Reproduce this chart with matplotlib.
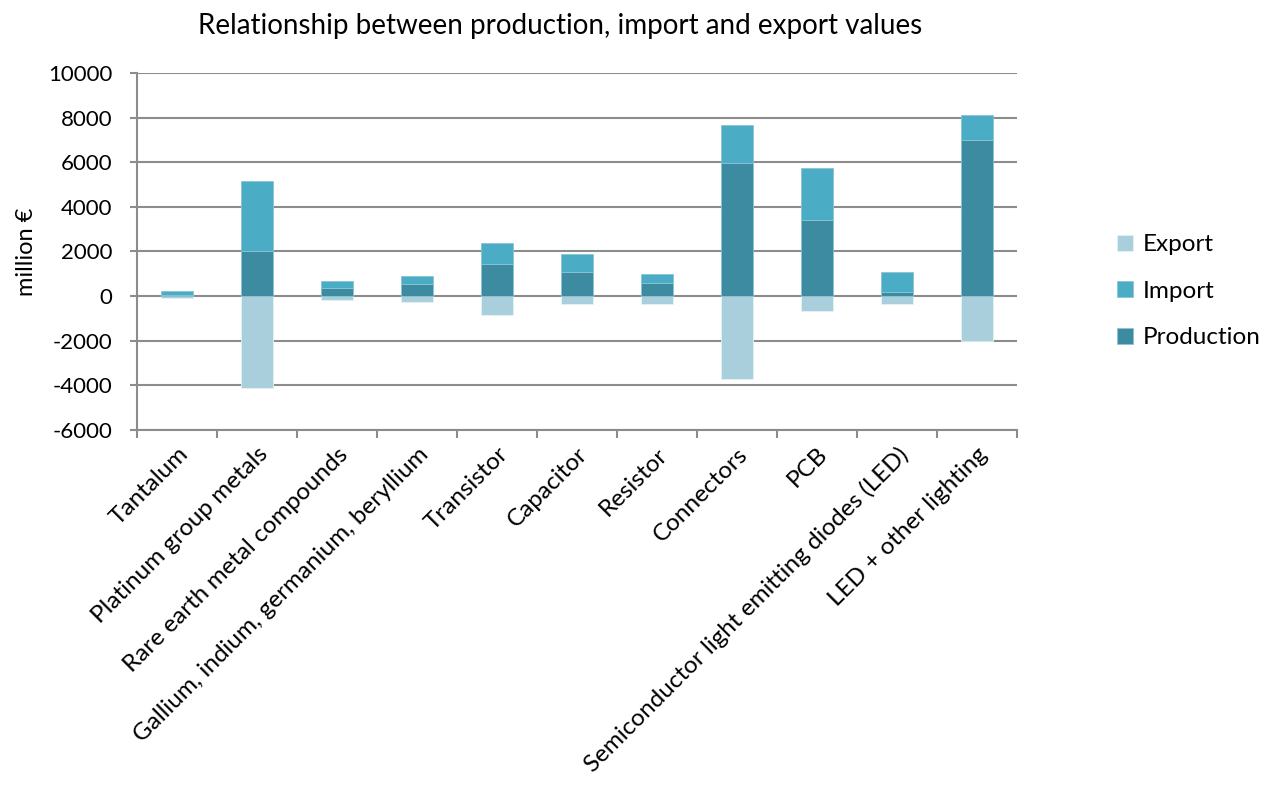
import numpy as np
import matplotlib.pyplot as plt

plt.rcParams['font.family'] = ['Lato', 'DejaVu Sans']
plt.rcParams['font.size'] = 16
plt.rcParams['axes.unicode_minus'] = False

categories = ['Tantalum', 'Platinum group metals', 'Rare earth metal compounds',
              'Gallium, indium, germanium, beryllium', 'Transistor', 'Capacitor',
              'Resistor', 'Connectors', 'PCB',
              'Semiconductor light emitting diodes (LED)', 'LED + other lighting']
production = [40, 2020, 340, 525, 1420, 1060, 570, 5980, 3390, 180, 7020]
imports = [170, 3140, 345, 370, 955, 810, 430, 1700, 2370, 880, 1090]
exports = [-90, -4120, -165, -255, -840, -345, -370, -3735, -655, -355, -2010]

c_export = '#a9cfdd'
c_import = '#4bacc6'
c_prod = '#3c8ba1'
grid_c = '#8c8c8c'

fig = plt.figure(figsize=(12.71, 7.87), dpi=100)
ax = fig.add_axes([0.108, 0.454, 0.692, 0.453])

x = np.arange(len(categories))
w = 0.4
ax.bar(x, exports, w, color=c_export, label='Export', zorder=3, edgecolor='#e6f2f6', linewidth=0.6)
ax.bar(x, production, w, color=c_prod, label='Production', zorder=3, edgecolor='#8cc3d2', linewidth=0.6)
ax.bar(x, imports, w, bottom=production, color=c_import, label='Import', zorder=3,
       edgecolor='#8cc3d2', linewidth=0.6)

ax.set_xlim(-0.5, len(categories) - 0.5)
ax.set_ylim(-6000, 10000)
ax.set_yticks(np.arange(-6000, 10001, 2000))
ax.yaxis.grid(True, color=grid_c, linewidth=1.5, zorder=0)
ax.set_axisbelow(True)

# category boundary ticks on the x axis, labels centred under the bars
ax.set_xticks(np.arange(-0.5, len(categories)), minor=False)
ax.set_xticklabels([])
ax.set_xticks(x, minor=True)
ax.set_xticklabels(categories, minor=True, rotation=45, ha='right',
                   rotation_mode='anchor', fontsize=17.5)
ax.tick_params(axis='x', which='major', length=6, width=1.5, color=grid_c, direction='out')
ax.tick_params(axis='x', which='minor', length=0, pad=10)
ax.tick_params(axis='y', length=5, width=1.5, color=grid_c, pad=13)

for s in ['top', 'right']:
    ax.spines[s].set_visible(False)
for s in ['left', 'bottom']:
    ax.spines[s].set_color(grid_c)
    ax.spines[s].set_linewidth(1.5)

ax.set_ylabel('million €', fontsize=17, labelpad=8)

handles, labels = ax.get_legend_handles_labels()
order = [labels.index(n) for n in ['Export', 'Import', 'Production']]
fig.legend([handles[i] for i in order], [labels[i] for i in order],
           loc='center left', bbox_to_anchor=(0.862, 0.63), frameon=False,
           handlelength=0.65, handleheight=0.65, handletextpad=0.4,
           labelspacing=1.05, fontsize=17.5)

fig.text(0.441, 0.967, 'Relationship between production, import and export values',
         ha='center', va='center', fontsize=20)

fig.savefig('out.png', dpi=100)
